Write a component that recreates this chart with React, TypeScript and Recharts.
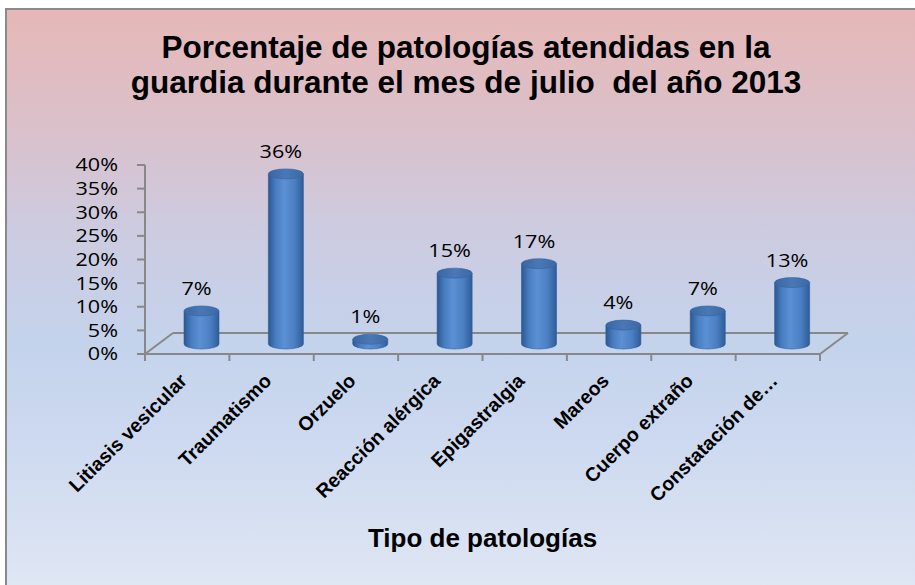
import React from 'react';
import { BarChart, Bar, XAxis, YAxis, LabelList, Customized } from 'recharts';

// data
const categories = [
  'Litiasis vesicular',
  'Traumatismo',
  'Orzuelo',
  'Reacción alérgica',
  'Epigastralgia',
  'Mareos',
  'Cuerpo extraño',
  'Constatación de…',
];
const percentages = [7, 36, 1, 15, 17, 4, 7, 13];
const yTicks = [0, 5, 10, 15, 20, 25, 30, 35, 40];
const titleLines = [
  'Porcentaje de patologías atendidas en la',
  'guardia durante el mes de julio  del año 2013',
];
const xAxisTitle = 'Tipo de patologías';

const data = categories.map((name, i) => ({ name, value: percentages[i] }));

const W = 915;
const H = 585;
const MARGIN = { top: 165, right: 95, bottom: 0, left: 85 };
const Y_AXIS_W = 60;
const X_AXIS_H = 231;
const PLOT_LEFT = MARGIN.left + Y_AXIS_W;
const PLOT_RIGHT = W - MARGIN.right;
const PLOT_BOTTOM = H - X_AXIS_H;
// floor depth of the fake 3d view
const DEPTH_X = 28;
const DEPTH_Y = 21;
const BAR_DX = 14;
const BAR_DY = -10;
const AXIS_GREY = '#888888';
const ARIAL = "'Liberation Sans', Arial, sans-serif";
const CALIBRI = "'Open Sans', sans-serif";
// the reference's calibri text is drawn wide
const WIDE = 1.2;

const Cylinder = (props: any) => {
  const { x, y, width, height } = props;
  if (width == null || height == null) return null;
  const rx = width / 2;
  const ry = 5;
  const cx = x + rx + BAR_DX;
  const top = y + BAR_DY;
  const bottom = y + height + BAR_DY;
  const l = cx - rx;
  const r = cx + rx;
  const body = `M${l},${top} L${l},${bottom} A${rx},${ry} 0 0 0 ${r},${bottom} L${r},${top} Z`;
  return (
    <g>
      <path d={body} fill="url(#cylBody)" stroke="#2f5b92" strokeWidth={0.6} />
      <ellipse cx={cx} cy={top} rx={rx} ry={ry} fill="url(#cylTop)" stroke="#34639c" strokeWidth={0.6} />
    </g>
  );
};

const CategoryTick = (props: any) => {
  const { x, y, payload } = props;
  return (
    <g transform={`translate(${x + 1},${y + 28})`}>
      <text
        textAnchor="end"
        transform="rotate(-45)"
        fontFamily={ARIAL}
        fontWeight="bold"
        fontSize={19.5}
        fill="#000"
      >
        {payload.value}
      </text>
    </g>
  );
};

const PercentTick = (props: any) => {
  const { x, y, payload } = props;
  return (
    <g transform={`translate(${x},${y}) scale(${WIDE},1)`}>
      <text textAnchor="end" dy="0.36em" fontFamily={CALIBRI} fontSize={18} fill="#000">
        {payload.value}%
      </text>
    </g>
  );
};

const ValueLabel = (props: any) => {
  const { x, y, width, value } = props;
  return (
    <g transform={`translate(${x + width / 2 + 9},${y - 26}) scale(${WIDE},1)`}>
      <text textAnchor="middle" fontFamily={CALIBRI} fontSize={18} fill="#000">
        {value}%
      </text>
    </g>
  );
};

const Decor = () => {
  const step = (PLOT_RIGHT - PLOT_LEFT) / categories.length;
  const ticks = categories.map((_, i) => PLOT_LEFT + i * step).concat(PLOT_RIGHT);
  const backY = PLOT_BOTTOM - DEPTH_Y;
  return (
    <g>
      <defs>
        <linearGradient id="cylBody" x1="0" y1="0" x2="1" y2="0">
          <stop offset="0%" stopColor="#2b5893" />
          <stop offset="22%" stopColor="#4a7ec3" />
          <stop offset="45%" stopColor="#5b90d4" />
          <stop offset="75%" stopColor="#4b7fc2" />
          <stop offset="100%" stopColor="#2e5c98" />
        </linearGradient>
        <linearGradient id="cylTop" x1="0" y1="0" x2="1" y2="0">
          <stop offset="0%" stopColor="#3a67a2" />
          <stop offset="50%" stopColor="#4a78b6" />
          <stop offset="100%" stopColor="#3c69a4" />
        </linearGradient>
      </defs>
      <g stroke={AXIS_GREY} strokeWidth={2} fill="none">
        <line x1={PLOT_LEFT} y1={PLOT_BOTTOM} x2={PLOT_LEFT + DEPTH_X} y2={backY} />
        <line x1={PLOT_LEFT + DEPTH_X} y1={backY} x2={PLOT_RIGHT + DEPTH_X} y2={backY} />
        <line x1={PLOT_RIGHT} y1={PLOT_BOTTOM} x2={PLOT_RIGHT + DEPTH_X} y2={backY} />
        {ticks.map((t, i) => (
          <line key={i} x1={t} y1={PLOT_BOTTOM} x2={t} y2={PLOT_BOTTOM + 7} />
        ))}
      </g>
      {titleLines.map((line, i) => (
        <text
          key={i}
          x={466}
          y={58 + i * 35}
          textAnchor="middle"
          fontFamily={ARIAL}
          fontWeight="bold"
          fontSize={31.5}
          fill="#000"
          style={{ whiteSpace: 'pre' }}
        >
          {line}
        </text>
      ))}
      <text
        x={(PLOT_LEFT + PLOT_RIGHT) / 2}
        y={547}
        textAnchor="middle"
        fontFamily={ARIAL}
        fontWeight="bold"
        fontSize={26}
        fill="#000"
      >
        {xAxisTitle}
      </text>
    </g>
  );
};

export default function App() {
  return (
    <div style={{ position: 'absolute', left: 0, top: 0, width: W, height: H, overflow: 'hidden' }}>
      <div
        style={{
          position: 'absolute',
          left: 5,
          top: 8,
          right: 0,
          bottom: 0,
          borderTop: '2px solid #8a8a8a',
          borderLeft: '2px solid #8a8a8a',
          background:
            'linear-gradient(to bottom, #e6b8b7 0%, #dcbfc8 18%, #cdcbe0 38%, #c4d3ec 58%, #cbd8ef 72%, #dfe6f4 100%)',
        }}
      />
      <div style={{ position: 'absolute', left: 0, top: 0 }}>
        <BarChart width={W} height={H} data={data} margin={MARGIN}>
          <Customized component={Decor} />
          <XAxis
            dataKey="name"
            interval={0}
            height={X_AXIS_H}
            tickLine={false}
            tickSize={0}
            tickMargin={0}
            axisLine={{ stroke: AXIS_GREY, strokeWidth: 2 }}
            tick={<CategoryTick />}
          />
          <YAxis
            width={Y_AXIS_W}
            domain={[0, 40]}
            ticks={yTicks}
            interval={0}
            tickSize={8}
            tickMargin={19}
            axisLine={{ stroke: AXIS_GREY, strokeWidth: 2 }}
            tickLine={{ stroke: AXIS_GREY, strokeWidth: 2 }}
            tick={<PercentTick />}
          />
          <Bar dataKey="value" barSize={35} shape={<Cylinder />} isAnimationActive={false}>
            <LabelList dataKey="value" content={<ValueLabel />} />
          </Bar>
        </BarChart>
      </div>
    </div>
  );
}
